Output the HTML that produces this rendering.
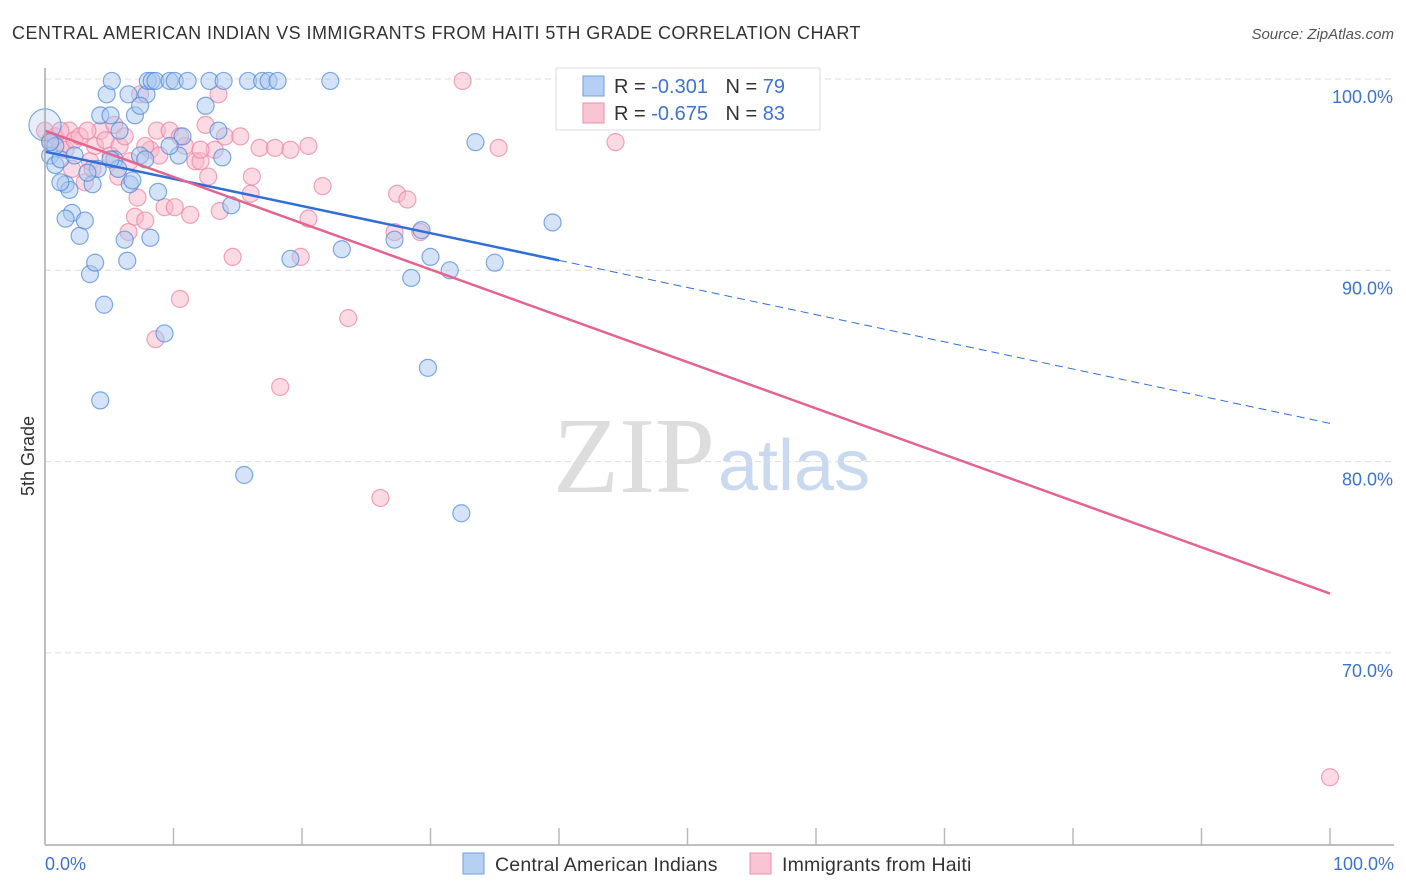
<!DOCTYPE html>
<html><head><meta charset="utf-8"><style>
body{margin:0;background:#fff;font-family:"Liberation Sans",sans-serif}
svg{display:block}
</style></head><body>
<svg width="1406" height="892" id="chart">
<text x="12" y="39" font-size="18" fill="#333" letter-spacing="0.45">CENTRAL AMERICAN INDIAN VS IMMIGRANTS FROM HAITI 5TH GRADE CORRELATION CHART</text>
<text x="1394" y="39" font-size="15" fill="#555" font-style="italic" text-anchor="end">Source: ZipAtlas.com</text>
<text x="34" y="456" font-size="18" fill="#333" transform="rotate(-90 34 456)" text-anchor="middle">5th Grade</text>
<text x="553" y="492" font-size="108" fill="#ddd" font-family="Liberation Serif,serif">ZIP</text>
<text x="718" y="490" font-size="72" fill="#c9daf0">atlas</text>
<g id="grid"></g><g id="pts"></g><g id="lines"></g>
<line x1="45" y1="68" x2="45" y2="845" stroke="#aaa" stroke-width="1.5"/>
<line x1="45" y1="845" x2="1394" y2="845" stroke="#aaa" stroke-width="1.5"/>
<text x="45" y="870" font-size="18" fill="#3d74d0">0.0%</text>
<text x="1394" y="870" font-size="18" fill="#3d74d0" text-anchor="end">100.0%</text>
<g>
<rect x="556" y="68" width="264" height="62" fill="#fff" stroke="#ddd"/>
<rect x="583" y="76" width="21" height="20" fill="#b6d0f3" stroke="#6f9ee3"/>
<rect x="583" y="103" width="21" height="20" fill="#f9c5d4" stroke="#ee8fab"/>
<text x="614" y="93" font-size="20" fill="#333">R = <tspan fill="#3d74d0">-0.301</tspan>  <tspan dx="12">N = </tspan><tspan fill="#3d74d0">79</tspan></text>
<text x="614" y="120" font-size="20" fill="#333">R = <tspan fill="#3d74d0">-0.675</tspan>  <tspan dx="12">N = </tspan><tspan fill="#3d74d0">83</tspan></text>
</g>
<g>
<rect x="463" y="853" width="21" height="21" fill="#b6d0f3" stroke="#6f9ee3"/>
<text x="495" y="871" font-size="19.5" fill="#333" letter-spacing="0.2">Central American Indians</text></g>
<g>
<rect x="750" y="853" width="21" height="21" fill="#f9c5d4" stroke="#ee8fab"/>
<text x="782" y="871" font-size="19.5" fill="#333" letter-spacing="0.2">Immigrants from Haiti</text></g>
</svg>
<script>
const yTicks=[100,90,80,70];
const xTicks=[0,10,20,30,40,50,60,70,80,90,100];
const blueX=[0,0.4,0.8,1.2,1.6,1.9,2.1,2.3,2.7,3.1,3.5,3.9,3.7,4.1,4.3,4.6,4.8,5.1,5.2,5.4,5.7,5.8,6.2,6.4,6.5,6.6,6.8,7,7.4,7.8,7.9,8,8.2,8.3,8.6,8.8,9.3,9.7,10.1,10.4,10.7,11.1,12.5,12.8,13.5,13.8,13.9,14.5,15.5,15.8,16.9,17.4,18.1,19.1,22.2,23.1,27.2,28.5,29.3,29.8,30,31.5,32.4,33.5,35,39.5,4.3,1.2,1.6,0.8,0.4,3.3,5.1,7.4,9.7];
const blueY=[97.6,96,95.5,95.8,94.5,94.2,93,96,91.8,92.6,89.8,90.4,94.5,95.3,98.1,88.2,99.2,98.1,99.9,95.8,95.3,97.3,91.6,90.5,99.2,94.5,94.7,98.1,96,95.8,99.2,99.9,91.7,99.9,99.9,94.1,86.7,99.9,99.9,96,97,99.9,98.6,99.9,97.3,95.9,99.9,93.4,79.3,99.9,99.9,99.9,99.9,90.6,99.9,91.1,91.6,89.6,92.1,84.9,90.7,90,77.3,96.7,90.4,92.5,83.2,94.6,92.7,96.5,96.7,95.1,95.8,98.6,96.5];
const pinkX=[0,0.4,0.8,1.2,1.6,1.9,2.3,2.7,3.1,3.5,3.9,4.3,4.7,5.1,5.4,5.7,5.8,6.2,6.5,6.6,7,7.2,7.4,7.8,8.2,8.6,8.7,8.9,9.3,9.7,10.1,10.5,10.9,11.3,11.7,12.1,12.5,12.7,13.2,13.5,13.6,14,14.6,15.2,16,16.1,16.7,17.9,18.3,19.1,19.9,20.5,20.5,21.6,23.6,26.1,27.2,27.4,28.2,29.2,32.5,35.3,44.4,100,1.2,2.1,3.3,3.7,7.8,10.5,12.1];
const pinkY=[97.3,96.8,97,96.5,96.3,97.3,96.8,97,94.6,95.7,96.5,97.3,96.8,96,97.6,94.9,96.5,97,92,95.7,92.8,93.8,99.2,92.6,96.3,86.4,97.3,96,93.3,97.3,93.3,88.5,96.5,92.9,95.7,95.7,97.6,94.9,96.3,99.2,93.1,97,90.7,97,94,94.9,96.4,96.4,83.9,96.3,90.7,96.5,92.7,94.4,87.5,78.1,92,94,93.7,92,99.9,96.4,96.7,63.5,97.3,95.3,97.3,95.3,96.5,97,96.3];
const lineBlue=[96.2,82.0], linePink=[97.3,73.1];
const X=v=>45+v*12.85, Y=v=>79+(100-v)*19.13;
const NS="http://www.w3.org/2000/svg";
function mk(t,a,p){const e=document.createElementNS(NS,t);for(const k in a)e.setAttribute(k,a[k]);document.getElementById(p).appendChild(e);return e;}
yTicks.forEach(t=>{
 const l=mk('line',{x1:45,x2:1394,y1:Y(t),y2:Y(t),stroke:'#ddd','stroke-dasharray':'6,4'},'grid');
 
 
 const tx=mk('text',{x:1393,y:Y(t)+24,'font-size':18,fill:'#3d74d0','text-anchor':'end'},'grid');
 tx.textContent=t.toFixed(1)+'%';
 
 
});
xTicks.slice(1).forEach(t=>{
 const l=mk('line',{x1:X(t),x2:X(t),y1:828,y2:845,stroke:'#bbb','stroke-width':1.5},'grid');
 
 
});
function dots(xs,ys,fill,stroke,name){xs.forEach((x,i)=>{
 const big=(i==0&&name=='blue-point');
 const c=mk('circle',{cx:X(x),cy:Y(ys[i]),r:big?16:8.5,fill:fill,'fill-opacity':big?0.3:0.5,stroke:stroke,'stroke-opacity':0.7,'stroke-width':1.2},'pts');
 
 
});}
dots(pinkX,pinkY,'#f7b6c9','#ec7fa0','pink-point');
dots(blueX,blueY,'#aac8f0','#4d88da','blue-point');
const bm=lineBlue[0]+(lineBlue[1]-lineBlue[0])*0.4;
let l1=mk('line',{x1:X(0),y1:Y(lineBlue[0]),x2:X(40),y2:Y(bm),stroke:'#2f6fd6','stroke-width':2.5},'lines');


let l2=mk('line',{x1:X(40),y1:Y(bm),x2:X(100),y2:Y(lineBlue[1]),stroke:'#2f6fd6','stroke-width':1,'stroke-dasharray':'8,5'},'lines');


let l3=mk('line',{x1:X(0),y1:Y(linePink[0]),x2:X(100),y2:Y(linePink[1]),stroke:'#e5638f','stroke-width':2.5},'lines');


</script>
</body></html>
